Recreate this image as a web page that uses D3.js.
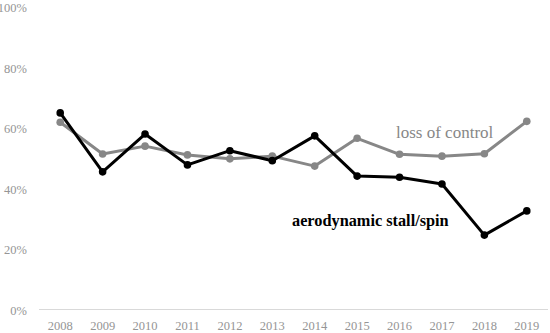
<!DOCTYPE html>
<html>
<head>
<meta charset="utf-8">
<script src="https://cdn.jsdelivr.net/npm/d3@7"></script>
<style>
  body { margin: 0; background: #fff; }
  text { font-family: "Liberation Serif", "DejaVu Serif", serif; }
</style>
</head>
<body>
<svg width="550" height="333"></svg>
<script>
var years = ['2008','2009','2010','2011','2012','2013','2014','2015','2016','2017','2018','2019'];
var stallSpin = [65.0, 45.5, 58.0, 47.8, 52.5, 49.2, 57.4, 44.1, 43.7, 41.5, 24.6, 32.6];
var lossControl = [61.9, 51.4, 54.0, 51.1, 49.8, 50.7, 47.4, 56.6, 51.3, 50.7, 51.5, 62.2];
var yTicks = [0, 20, 40, 60, 80, 100];

var svg = d3.select('svg');

var scaleX = d3.scaleBand().domain(years).range([39, 548]);
var scaleY = d3.scaleLinear().domain([0, 100]).range([309.5, 7]);

// baseline
svg.append('line')
    .attr('x1', 39).attr('x2', 548)
    .attr('y1', scaleY(0)).attr('y2', scaleY(0))
    .attr('stroke', '#d9d9d9')
    .attr('stroke-width', 1);

// y labels
svg.selectAll('.ylab')
    .data(yTicks)
    .enter()
    .append('text')
    .attr('class', 'ylab')
    .attr('x', 27)
    .attr('y', function(d) { return scaleY(d) + 1; })
    .attr('dy', '0.35em')
    .attr('text-anchor', 'end')
    .attr('font-size', 12.5)
    .attr('fill', '#959595')
    .text(function(d) { return d + '%'; });

// x labels
svg.selectAll('.xlab')
    .data(years)
    .enter()
    .append('text')
    .attr('class', 'xlab')
    .attr('x', function(d) { return scaleX(d) + scaleX.bandwidth() / 2; })
    .attr('y', 326)
    .attr('dy', '0.35em')
    .attr('text-anchor', 'middle')
    .attr('font-size', 12.5)
    .attr('fill', '#959595')
    .text(function(d) { return d; });

function drawSeries(values, color) {
    var pts = years.map(function(y, i) { return { year: y, v: values[i] }; });
    var line = d3.line()
        .x(function(d) { return scaleX(d.year) + scaleX.bandwidth() / 2; })
        .y(function(d) { return scaleY(d.v); });

    svg.append('path')
        .datum(pts)
        .attr('d', line)
        .attr('fill', 'none')
        .attr('stroke', color)
        .attr('stroke-width', 3)
        .attr('stroke-linejoin', 'round');

    svg.append('g').selectAll('circle')
        .data(pts)
        .enter()
        .append('circle')
        .attr('cx', function(d) { return scaleX(d.year) + scaleX.bandwidth() / 2; })
        .attr('cy', function(d) { return scaleY(d.v); })
        .attr('r', 3.8)
        .attr('fill', color);
}

drawSeries(lossControl, '#878787');
drawSeries(stallSpin, '#000000');

svg.append('text')
    .attr('x', 396)
    .attr('y', 138)
    .attr('font-size', 17)
    .attr('fill', '#878787')
    .text('loss of control');

svg.append('text')
    .attr('x', 292)
    .attr('y', 226)
    .attr('font-size', 16.3)
    .attr('font-weight', 'bold')
    .attr('fill', '#000')
    .text('aerodynamic stall/spin');
</script>
</body>
</html>
